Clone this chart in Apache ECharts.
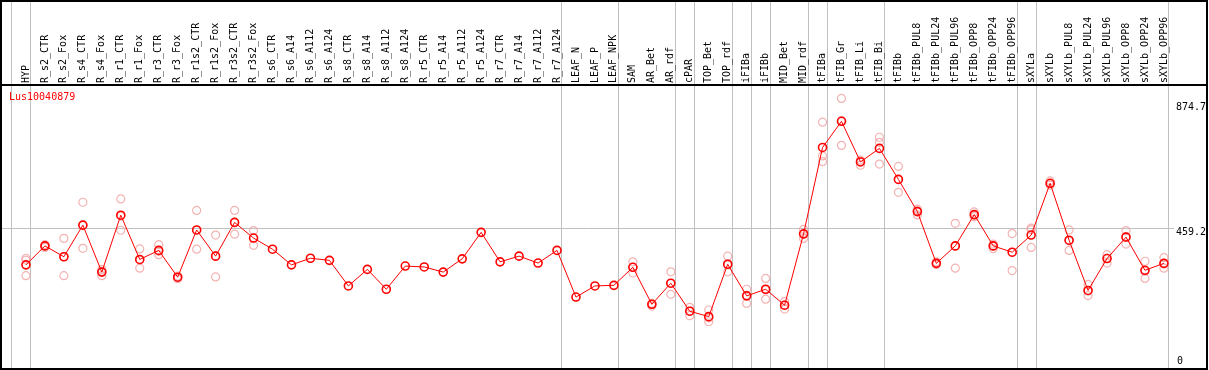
<!DOCTYPE html>
<html>
<head>
<meta charset="utf-8">
<script src="https://cdn.jsdelivr.net/npm/echarts@6/dist/echarts.min.js"></script>
<style>
html, body { margin: 0; padding: 0; background: #fff; }
#main { width: 1209px; height: 370px; }
</style>
</head>
<body>
<div id="main"></div>
<script>
var geneName = "Lus10040879";
var categories = ["HYP", "R_s2_CTR", "R_s2_Fox", "R_s4_CTR", "R_s4_Fox", "R_r1_CTR", "R_r1_Fox", "R_r3_CTR", "R_r3_Fox",
    "R_r1s2_CTR", "R_r1s2_Fox", "R_r3s2_CTR", "R_r3s2_Fox", "R_s6_CTR", "R_s6_A14", "R_s6_A112", "R_s6_A124",
    "R_s8_CTR", "R_s8_A14", "R_s8_A112", "R_s8_A124", "R_r5_CTR", "R_r5_A14", "R_r5_A112", "R_r5_A124",
    "R_r7_CTR", "R_r7_A14", "R_r7_A112", "R_r7_A124", "LEAF_N", "LEAF_P", "LEAF_NPK", "SAM", "AR_Bet", "AR_rdf",
    "cPAR", "TOP_Bet", "TOP_rdf", "iFIBa", "iFIBb", "MID_Bet", "MID_rdf", "tFIBa", "tFIB_Gr", "tFIB_Li", "tFIB_Bi",
    "tFIBb", "tFIBb_PUL8", "tFIBb_PUL24", "tFIBb_PUL96", "tFIBb_OPP8", "tFIBb_OPP24", "tFIBb_OPP96",
    "sXYLa", "sXYLb", "sXYLb_PUL8", "sXYLb_PUL24", "sXYLb_PUL96", "sXYLb_OPP8", "sXYLb_OPP24", "sXYLb_OPP96"];
// mean expression per sample
var means = [336, 399, 363, 468, 312, 501, 354, 384, 295, 452, 365, 477, 425, 388, 336, 358, 351,
    266, 321, 255, 332, 329, 312, 356, 444, 346, 365, 342, 384, 229, 266, 268, 328, 205, 275,
    182, 164, 338, 233, 255, 202, 439, 726, 813, 678, 723, 620, 513, 341, 399, 503, 399, 378,
    435, 607, 418, 251, 357, 428, 318, 341];
// replicates (null = not shown)
var rep1 = [358, 403, 424, 544, 321, 555, 389, 403, 299, 517, 435, 517, 450, null, null, null, null,
    null, null, null, null, null, null, null, null, null, null, null, null, null, null, null, 346, 208, 313,
    195, 186, 365, 255, 291, 214, 454, 810, 889, 684, 760, 663, 521, 346, 474, 512, 405, 440,
    458, 615, 452, 271, 370, 450, 348, 360];
var rep2 = [352, 399, 300, 391, 300, 451, 325, 370, 295, 388, 296, 438, 401, null, null, null, null,
    null, null, null, null, null, null, null, null, null, null, null, null, null, null, null, 309, 199, 238,
    167, 147, 313, 208, 222, 189, 424, 698, 733, 667, 743, 577, 502, 341, 325, 501, 397, 317,
    394, 601, 384, 234, 342, 405, 291, 325];
var rep3 = [300, 394, 363, 468, 315, 498, 352, 381, 290, 451, 365, 477, 425, null, null, null, null,
    null, null, null, null, null, null, null, null, null, null, null, null, null, null, null, 328, 205, 274,
    182, 160, 336, 235, 253, 202, 438, 679, 815, 680, 671, 620, 516, 337, 398, 496, 390, 377,
    453, 605, 416, 249, 358, 430, 315, 339];
// last sample index of each group (-1 = left edge)
var groupEnds = [-1, 0, 28, 31, 34, 35, 37, 38, 39, 41, 42, 45, 52, 53, 60];
var yLabels = [459.2, 874.7];

var fontName = "DejaVu Sans Mono";
var meanData = means.map(function (v, i) { return [i, v]; });
var repData = [];
[rep1, rep2, rep3].forEach(function (arr) {
    arr.forEach(function (v, i) {
        if (v != null) repData.push([i, v]);
    });
});
var idx = categories.map(function (c, i) { return i; });

var frame = [{
    type: "rect",
    shape: { x: 1, y: 1, width: 1206, height: 368 },
    style: { fill: "none", stroke: "#000", lineWidth: 2 },
    z: 10
}, {
    type: "line",
    shape: { x1: 1, y1: 85, x2: 1207, y2: 85 },
    style: { stroke: "#000", lineWidth: 2 },
    z: 10
}];

var myChart = echarts.init(document.getElementById("main"));
var option = {
    backgroundColor: "#fff",
    animation: false,
    title: {
        text: geneName,
        left: 9,
        top: 92,
        padding: 0,
        textStyle: { color: "#ff0000", fontSize: 10, fontWeight: "normal", fontFamily: fontName }
    },
    grid: { left: 1, top: 0, width: 1175, height: 369 },
    xAxis: {
        type: "value",
        position: "top",
        offset: -85,
        min: -1.3158,
        max: 60.526,
        axisLine: { show: false },
        axisTick: { show: false },
        splitLine: { show: false },
        axisLabel: {
            customValues: idx,
            rotate: 90,
            margin: 2,
            padding: [0, 0, 4, 0],
            color: "#000",
            fontSize: 10,
            fontFamily: fontName,
            formatter: function (v) { return categories[Math.round(v)]; }
        }
    },
    yAxis: [{
        type: "value",
        position: "right",
        min: -10,
        max: 1216,
        axisLine: { show: false },
        axisTick: { show: false, customValues: [459.2] },
        splitLine: { show: true, lineStyle: { color: "#c0c0c0", width: 1 } },
        axisLabel: {
            customValues: yLabels,
            margin: 2,
            verticalAlign: "top",
            color: "#000",
            fontSize: 10,
            fontFamily: fontName
        }
    }, {
        type: "value",
        position: "right",
        min: -10,
        max: 1216,
        axisLine: { show: false },
        axisTick: { show: false },
        splitLine: { show: false },
        axisLabel: {
            customValues: [0],
            margin: 3,
            verticalAlign: "bottom",
            color: "#000",
            fontSize: 10,
            fontFamily: fontName
        }
    }],
    graphic: frame,
    series: [{
        name: "replicates",
        type: "scatter",
        data: repData,
        symbol: "circle",
        symbolSize: 8,
        itemStyle: { color: "rgba(0,0,0,0)", borderColor: "#f0a0a0", borderWidth: 1.2 },
        z: 2
    }, {
        name: "mean",
        type: "line",
        data: meanData,
        symbol: "circle",
        symbolSize: 8,
        lineStyle: { color: "#ff0000", width: 1 },
        itemStyle: { color: "rgba(0,0,0,0)", borderColor: "#ff0000", borderWidth: 1.6 },
        z: 3
    }]
};
myChart.setOption(option);

// group separators, placed through the x axis scale
var seps = groupEnds.map(function (k) {
    var x = Math.round(myChart.convertToPixel({ xAxisIndex: 0 }, k + 0.23)) + 0.5;
    return {
        type: "line",
        shape: { x1: x, y1: 0, x2: x, y2: 369 },
        style: { stroke: "#c0c0c0", lineWidth: 1 },
        silent: true,
        z: -1
    };
});
myChart.setOption({ graphic: frame.concat(seps) });
</script>
</body>
</html>
